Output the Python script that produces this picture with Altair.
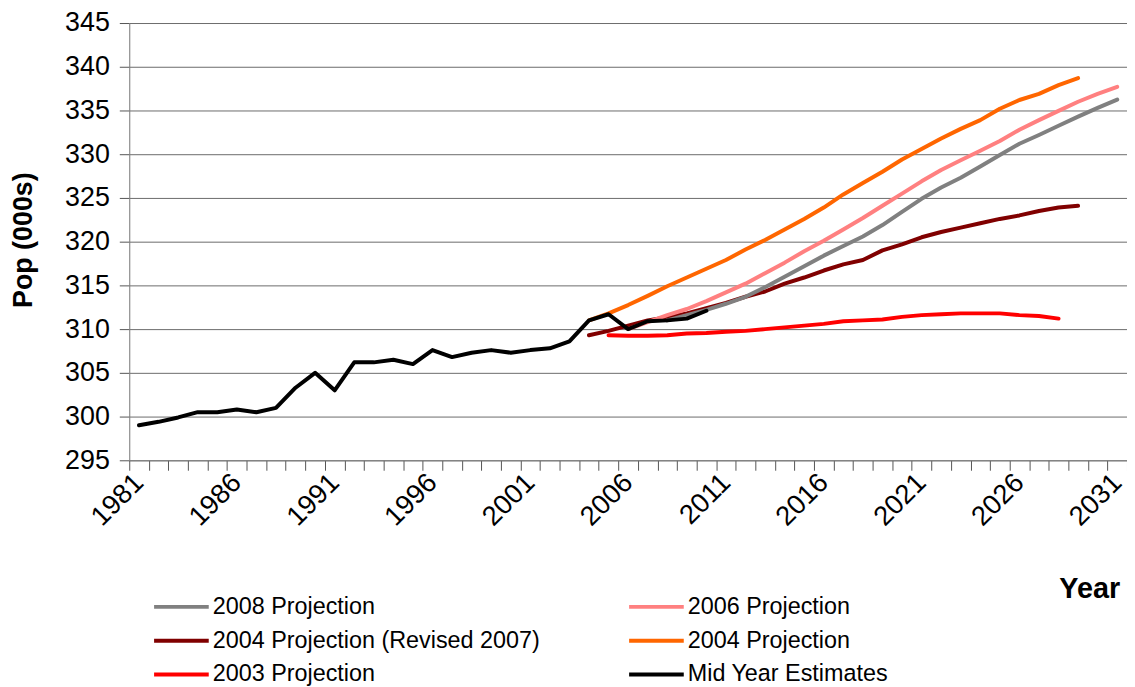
import altair as alt
import pandas as pd

years_all = list(range(1981, 2032))

mye_start = 1981
mye = [299.0, 299.4, 299.9, 300.5, 300.5, 300.8, 300.5, 301.0, 303.3, 305.0,
       303.0, 306.2, 306.2, 306.5, 306.0, 307.6, 306.8, 307.3, 307.6, 307.3,
       307.6, 307.8, 308.6, 311.0, 311.7, 310.0, 310.9, 311.0, 311.2, 312.1]

p2003_start = 2005
p2003 = [309.3, 309.25, 309.25, 309.3, 309.5, 309.55, 309.7, 309.8, 310.0, 310.2,
         310.4, 310.6, 310.9, 311.0, 311.1, 311.4, 311.6, 311.7, 311.8, 311.8,
         311.8, 311.6, 311.5, 311.2]

p2004_start = 2004
p2004 = [311.0, 311.8, 312.75, 313.8, 314.9, 315.9, 316.9, 317.9, 319.1, 320.2,
         321.4, 322.6, 323.9, 325.4, 326.7, 328.0, 329.4, 330.6, 331.8, 332.9,
         333.9, 335.2, 336.2, 336.9, 337.9, 338.7]

p2004r_start = 2004
p2004r = [309.3, 309.8, 310.4, 311.0, 311.35, 311.8, 312.4, 313.0, 313.7, 314.3,
          315.2, 315.9, 316.7, 317.4, 317.9, 319.0, 319.7, 320.5, 321.1, 321.6,
          322.1, 322.6, 323.0, 323.5, 323.9, 324.1]

p2006_start = 2006
p2006 = [310.0, 310.8, 311.6, 312.3, 313.2, 314.2, 315.2, 316.4, 317.6, 318.9,
         320.1, 321.4, 322.7, 324.1, 325.5, 326.9, 328.2, 329.3, 330.4, 331.5,
         332.8, 333.9, 334.95, 336.0, 336.9, 337.7]

p2008_start = 2008
p2008 = [311.0, 311.6, 312.2, 312.9, 313.7, 314.8, 316.0, 317.2, 318.4, 319.5,
         320.6, 321.9, 323.4, 324.9, 326.2, 327.3, 328.6, 329.9, 331.2, 332.2,
         333.25, 334.3, 335.3, 336.25]

# legend order (filled column by column): left column then right column
series_names = ["2008 Projection", "2004 Projection (Revised 2007)", "2003 Projection",
                "2006 Projection", "2004 Projection", "Mid Year Estimates"]
series_colors = ["#808080", "#800000", "#FF0000", "#FF8080", "#FF6600", "#000000"]

y_ticks = list(range(295, 350, 5))

draw_order = [
    ("2003 Projection", p2003_start, p2003),
    ("2004 Projection", p2004_start, p2004),
    ("2004 Projection (Revised 2007)", p2004r_start, p2004r),
    ("2006 Projection", p2006_start, p2006),
    ("2008 Projection", p2008_start, p2008),
    ("Mid Year Estimates", mye_start, mye),
]

rows = []
for name, start, vals in draw_order:
    for i, v in enumerate(vals):
        rows.append({"Year": start + i, "Pop": v, "Series": name})
df = pd.DataFrame(rows)

FONT = "Liberation Sans"

chart = alt.Chart(df).mark_line(strokeWidth=4, strokeJoin="round", strokeCap="round").encode(
    x=alt.X(
        "Year:O",
        bandPosition=0.5,
        scale=alt.Scale(type="band", domain=years_all, paddingInner=0, paddingOuter=0),
        axis=alt.Axis(
            title="Year",
            labelExpr="(datum.value - 1981) % 5 == 0 ? datum.label : ''",
            labelAngle=-45,
            labelAlign="right",
            labelBaseline="top",
            labelFontSize=27.5,
            labelFont=FONT,
            labelColor="#000000",
            labelPadding=-2,
            labelOffset=-10,
            labelOverlap=False,
            tickBand="extent",
            tickSize=10,
            tickColor="#555555",
            domainColor="#808080",
            grid=False,
            titleFont=FONT,
            titleFontSize=29,
            titleFontWeight="bold",
            titleColor="#000000",
            titleX=966,
            titleY=138,
            titleAlign="center",
            titleBaseline="alphabetic",
        ),
    ),
    y=alt.Y(
        "Pop:Q",
        scale=alt.Scale(domain=[295, 345], nice=False, zero=False),
        axis=alt.Axis(
            values=y_ticks,
            title="Pop (000s)",
            labelFontSize=27,
            labelFont=FONT,
            labelColor="#000000",
            labelPadding=10,
            tickSize=10,
            tickColor="#555555",
            domainColor="#808080",
            grid=True,
            gridColor="#6b6b6b",
            gridWidth=1,
            titleFont=FONT,
            titleFontSize=27,
            titleFontWeight="bold",
            titleColor="#000000",
            titleAngle=270,
            titleX=-106,
            titleY=218,
            titleAlign="center",
            titleBaseline="middle",
        ),
    ),
    color=alt.Color(
        "Series:N",
        scale=alt.Scale(domain=series_names, range=series_colors),
        legend=alt.Legend(
            title=None,
            orient="none",
            legendX=23,
            legendY=576,
            columns=2,
            columnPadding=87,
            rowPadding=10,
            symbolType="stroke",
            symbolSize=3025,
            symbolStrokeWidth=4,
            labelFontSize=23.5,
            labelFont=FONT,
            labelColor="#000000",
            labelOffset=2,
            labelLimit=500,
            clipHeight=23,
            padding=0,
        ),
    ),
).properties(
    width=1004,
    height=440,
    autosize=alt.AutoSizeParams(type="none"),
    padding={"left": 122, "top": 13, "right": 0, "bottom": 226},
).configure_view(strokeWidth=0).configure(font=FONT)

chart.save("out.html", embed_options={"renderer": "svg", "actions": False})
